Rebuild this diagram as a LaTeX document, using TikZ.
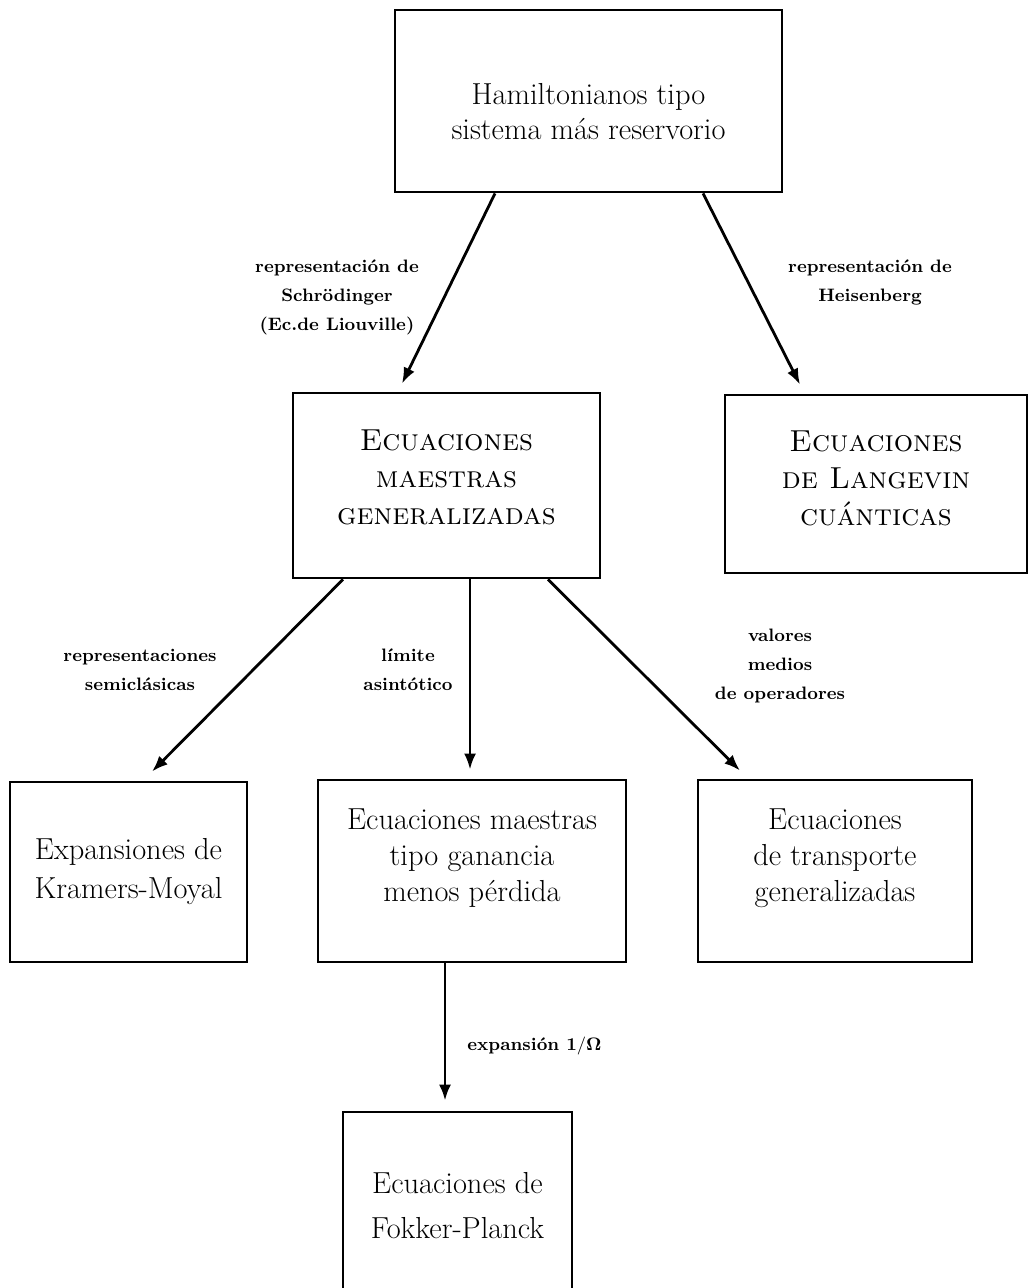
\documentclass[tikz,border=0pt]{standalone}
\usetikzlibrary{calc,arrows.meta}
\begin{document}
\begin{tikzpicture}[x=0.5pt,y=-0.5pt,
  box/.style={draw,line width=1.4pt,inner sep=0pt},
  txt/.style={align=center,inner sep=0pt,font=\fontsize{15.2}{18}\selectfont},
  lab/.style={align=center,inner sep=0pt,font=\fontsize{9}{14.5}\selectfont\bfseries},
  arr/.style={line width=1.4pt,-{Latex[length=8pt,width=6pt]}}]
\useasboundingbox (0,0) rectangle (1029,1288);
% boxes
\node[box,minimum width=387*0.5pt,minimum height=182*0.5pt] (top) at (588.5,101) {};
\node[box,minimum width=307*0.5pt,minimum height=185*0.5pt] (mid) at (446.5,485.5) {};
\node[box,minimum width=302*0.5pt,minimum height=178*0.5pt] (lang) at (876,484) {};
\node[box,minimum width=237*0.5pt,minimum height=180*0.5pt] (km) at (128.5,872) {};
\node[box,minimum width=308*0.5pt,minimum height=182*0.5pt] (gan) at (472,871) {};
\node[box,minimum width=274*0.5pt,minimum height=182*0.5pt] (trans) at (835,871) {};
\node[box,minimum width=229*0.5pt,minimum height=188*0.5pt] (fp) at (457.5,1206) {};
% box texts
\node[txt,font=\fontsize{15.2}{17.5}\selectfont] (topt) at ($(top)+(0,11)$)
  {Hamiltonianos tipo\\sistema más reservorio};
\node[txt,font=\fontsize{15.2}{18.5}\selectfont\scshape] (midt) at ($(mid)+(0,-8)$)
  {Ecuaciones\\maestras\\generalizadas};
\node[txt,font=\fontsize{15.2}{18.5}\selectfont\scshape] (langt) at ($(lang)+(0,-6)$)
  {Ecuaciones\\de Langevin\\cuánticas};
\node[txt,font=\fontsize{15.2}{19.5}\selectfont] (kmt) at ($(km)+(0,0)$)
  {Expansiones de\\Kramers-Moyal};
\node[txt] (gant) at ($(gan)+(0,-13)$)
  {Ecuaciones maestras\\tipo ganancia\\menos pérdida};
\node[txt] (transt) at ($(trans)+(0,-13)$)
  {Ecuaciones\\de transporte\\generalizadas};
\node[txt,font=\fontsize{15.2}{22.5}\selectfont] (fpt) at ($(fp)+(0,0)$)
  {Ecuaciones de\\Fokker-Planck};
% connectors
\draw[arr] ($(top.south)+(-93.5,0)$) -- ($(mid.north)+(-44.5,-8)$);
\draw[arr] ($(top.south)+(114.5,0)$) -- ($(lang.north)+(-76,-9)$);
\draw[arr] ($(mid.south)+(-103.5,0)$) -- ($(km.north)+(23.5,-9)$);
\draw[arr] ($(mid.south)+(23.5,0)$) -- ($(gan.north)+(-2,-9)$);
\draw[arr] ($(mid.south)+(101.5,0)$) -- ($(trans.north)+(-95,-8)$);
\draw[arr] ($(gan.south)+(-27,0)$) -- ($(fp.north)+(-12.5,-10)$);
% labels
\node[lab] (l1) at (337,297) {representación de\\Schrödinger\\(Ec.de Liouville)};
\node[lab] (l2) at (870,282) {representación de\\Heisenberg};
\node[lab] (l3) at (140,670) {representaciones\\semiclásicas};
\node[lab] (l4) at (408,670) {límite\\asintótico};
\node[lab] (l5) at (780,666) {valores\\medios\\de operadores};
\node[lab,anchor=west] (l6) at (467,1046) {expansión $\mathbf{1/\Omega}$};
\end{tikzpicture}
\end{document}
